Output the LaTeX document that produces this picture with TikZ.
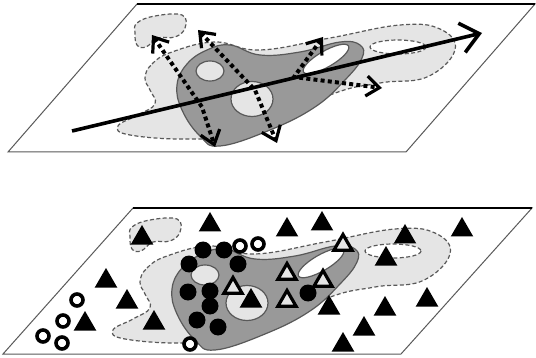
\documentclass[tikz,border=0pt]{standalone}
\usepackage{tikz}
\usetikzlibrary{arrows.meta,shapes.geometric}

\definecolor{blobgray}{gray}{0.6}
\definecolor{hazegray}{gray}{0.9}
\definecolor{edgegray}{gray}{0.35}

\begin{document}
\begin{tikzpicture}[
  x=0.5pt, y=-0.5pt,
  plane/.style={draw=edgegray, line width=0.5pt},
  rim/.style={draw=black, line width=0.9pt},
  haze/.style={draw=edgegray, dash pattern=on 2pt off 1.2pt, line width=0.6pt, fill=hazegray},
  blob/.style={draw=edgegray, line width=0.6pt, fill=blobgray},
  hole/.style={draw=edgegray, line width=0.6pt, fill=hazegray},
  axis/.style={line width=1.8pt, -{Straight Barb[length=9pt, width=15pt, line width=1.8pt]}},
  probe/.style={line width=2pt, dash pattern=on 2pt off 1.6pt,
    {Straight Barb[length=6.5pt, width=10pt, line width=1.6pt]}-{Straight Barb[length=6.5pt, width=10pt, line width=1.6pt]}},
  tri/.style={regular polygon, regular polygon sides=3, fill=black, inner sep=0pt, minimum size=13pt},
  otri/.style={regular polygon, regular polygon sides=3, draw=black, line width=1.6pt, fill=hazegray, inner sep=0pt, minimum size=10.5pt},
  dot/.style={circle, fill=black, inner sep=0pt, minimum size=8.5pt},
  ring/.style={circle, draw=black, line width=1.8pt, fill=white, inner sep=0pt, minimum size=6pt},
  pics/terrain/.style={code={
    % outer haze with its dashed edge
    \path[haze] plot[smooth cycle, tension=0.7] coordinates {(145,78) (152,64) (172,52) (215,42) (260,50) (330,38) (400,25) (440,29) (455,50) (427,77) (380,83) (330,95) (250,133) (190,139) (130,135) (118,126) (138,115) (155,104) (150,90)};
    \path[haze] plot[smooth cycle, tension=0.7] coordinates {(137,23) (155,16) (182,15) (185,28) (175,37) (158,38) (146,47) (137,45) (135,33)};
    \path[haze, fill=white] (398,47) ellipse [x radius=28, y radius=7];
    % dark core
    \path[blob] plot[smooth cycle, tension=0.7] coordinates {(177,85) (187,64) (207,50) (230,45) (260,55) (300,52) (340,42) (360,45) (362,58) (345,80) (315,107) (270,130) (220,146) (200,136) (182,110)};
    \path[hole] (210,71) ellipse [x radius=14, y radius=10];
    \path[hole] (252,99) ellipse [x radius=21, y radius=17.5];
    \path[hole, fill=white, rotate around={30:(326,59)}] (326,59) ellipse [x radius=26, y radius=8];
  }}
]
  \useasboundingbox (0,0) rectangle (536,358);

  % upper plane
  \coordinate (usw) at (8,152);
  \coordinate (use) at (406,152);
  \coordinate (une) at (535,4);
  \coordinate (unw) at (137,4);
  \fill[white] (usw) -- (use) -- (une) -- (unw) -- cycle;
  \pic at (0,0) {terrain};
  \draw[plane] (usw) -- (use) -- (une) -- (unw) -- cycle;
  \draw[rim] (unw) -- (une);

  \coordinate (tail) at (72,131);
  \coordinate (head) at (482,33);
  \draw[axis] (tail) -- (head);

  \coordinate (pa1) at (152,35);
  \coordinate (pa2) at (202,107);
  \coordinate (pa3) at (215,147);
  \coordinate (pb1) at (198,30);
  \coordinate (pb2) at (255,90);
  \coordinate (pb3) at (277,143);
  \coordinate (pc1) at (323,37);
  \coordinate (pc2) at (294,77);
  \coordinate (pc3) at (382,88);
  \draw[probe] (pa1) -- (pa2) -- (pa3);
  \draw[probe] (pb1) -- (pb2) -- (pb3);
  \draw[probe] (pc1) -- (pc2) -- (pc3);

  % lower plane
  \coordinate (lsw) at (3,354);
  \coordinate (lse) at (401,354);
  \coordinate (lne) at (532,208);
  \coordinate (lnw) at (133,208);
  \pic at (-5,204) {terrain};
  \draw[plane] (lsw) -- (lse) -- (lne) -- (lnw) -- cycle;
  \draw[rim] (lnw) -- (lne);

  \node[tri] (t1) at (210,225) {};
  \node[tri] (t2) at (287,230) {};
  \node[tri] (t3) at (322,224) {};
  \node[tri] (t4) at (142,238) {};
  \node[tri] (t5) at (405,237) {};
  \node[tri] (t6) at (462,230) {};
  \node[tri] (t7) at (386,259) {};
  \node[tri] (t8) at (106,281) {};
  \node[tri] (t9) at (127,302) {};
  \node[tri] (t10) at (85,324) {};
  \node[tri] (t11) at (154,323) {};
  \node[tri] (t12) at (251,301) {};
  \node[tri] (t13) at (329,308) {};
  \node[tri] (t14) at (385,309) {};
  \node[tri] (t15) at (427,300) {};
  \node[tri] (t16) at (364,329) {};
  \node[tri] (t17) at (343,345) {};

  \node[otri] (o1) at (343,245) {};
  \node[otri] (o2) at (287,274) {};
  \node[otri] (o3) at (233,288) {};
  \node[otri] (o4) at (323,281) {};
  \node[otri] (o5) at (287,301) {};

  \node[dot] (c1) at (203,250) {};
  \node[dot] (c2) at (224,250) {};
  \node[dot] (c3) at (189,264) {};
  \node[dot] (c4) at (238,264) {};
  \node[dot] (c5) at (188,292) {};
  \node[dot] (c6) at (210,291) {};
  \node[dot] (c7) at (210,306) {};
  \node[dot] (c8) at (197,320) {};
  \node[dot] (c9) at (218,327) {};
  \node[dot] (c10) at (308,293) {};

  \node[ring] (r1) at (240,246) {};
  \node[ring] (r2) at (258,244) {};
  \node[ring] (r3) at (77,300) {};
  \node[ring] (r4) at (63,321) {};
  \node[ring] (r5) at (43,336) {};
  \node[ring] (r6) at (62,343) {};
  \node[ring] (r7) at (190,344) {};
\end{tikzpicture}
\end{document}
